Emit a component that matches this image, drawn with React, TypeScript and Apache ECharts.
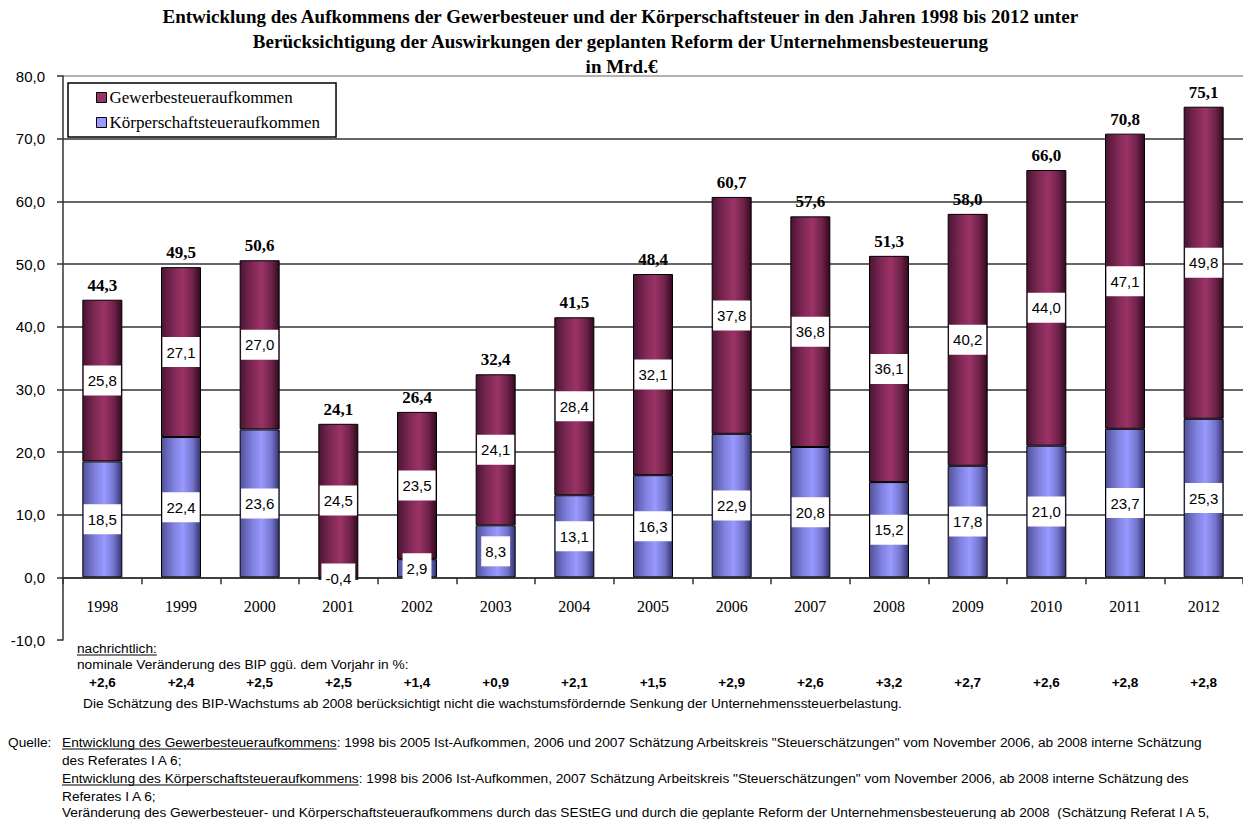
import React, { useEffect, useRef } from 'react';
import * as echarts from 'echarts';

const years = ['1998', '1999', '2000', '2001', '2002', '2003', '2004', '2005', '2006', '2007', '2008', '2009', '2010', '2011', '2012'];
const koerperschaft = [18.5, 22.4, 23.6, -0.4, 2.9, 8.3, 13.1, 16.3, 22.9, 20.8, 15.2, 17.8, 21.0, 23.7, 25.3];
const gewerbe = [25.8, 27.1, 27.0, 24.5, 23.5, 24.1, 28.4, 32.1, 37.8, 36.8, 36.1, 40.2, 44.0, 47.1, 49.8];
const totals = [44.3, 49.5, 50.6, 24.1, 26.4, 32.4, 41.5, 48.4, 60.7, 57.6, 51.3, 58.0, 66.0, 70.8, 75.1];
const bipChange = ['+2,6', '+2,4', '+2,5', '+2,5', '+1,4', '+0,9', '+2,1', '+1,5', '+2,9', '+2,6', '+3,2', '+2,7', '+2,6', '+2,8', '+2,8'];

const titleLines = [
  'Entwicklung des Aufkommens der Gewerbesteuer und der Körperschaftsteuer in den Jahren 1998 bis 2012 unter',
  'Berücksichtigung der Auswirkungen der geplanten Reform der Unternehmensbesteuerung',
  'in Mrd.€',
];
const seriesNames = ['Gewerbesteueraufkommen', 'Körperschaftsteueraufkommen'];

const fmt = (v: number) => v.toFixed(1).replace('.', ',');

const SANS = '"Liberation Sans", Arial, sans-serif';
const SERIF = '"Liberation Serif", "Times New Roman", serif';
const NOTE_SIZE = 13.7;

function measure(text: string, font: string): number {
  const c = document.createElement('canvas').getContext('2d');
  if (!c) return text.length * 6;
  c.font = font;
  return c.measureText(text).width;
}

export default function App() {
  const ref = useRef<HTMLDivElement>(null);
  useEffect(() => {
    if (!ref.current) return;
    const chart = echarts.init(ref.current, undefined, { renderer: 'svg' });

    const purple = new echarts.graphic.LinearGradient(0, 0, 1, 0, [
      { offset: 0, color: '#4a1434' },
      { offset: 0.3, color: '#7e2854' },
      { offset: 0.55, color: '#9b3366' },
      { offset: 0.8, color: '#6e2249' },
      { offset: 1, color: '#33091f' },
    ]);
    const blue = new echarts.graphic.LinearGradient(0, 0, 1, 0, [
      { offset: 0, color: '#50509a' },
      { offset: 0.3, color: '#7f7fdc' },
      { offset: 0.55, color: '#9999ff' },
      { offset: 0.8, color: '#7474cc' },
      { offset: 1, color: '#333370' },
    ]);

    const tops = gewerbe.map((g, i) => g + Math.max(koerperschaft[i], 0));

    const noteFont = `${NOTE_SIZE}px "Liberation Sans"`;
    const graphics: any[] = [];
    titleLines.forEach((t, i) => {
      graphics.push({
        type: 'text', left: 'center', top: 7 + i * 25,
        style: { text: t, font: `bold 19px ${SERIF}`, fill: '#000' },
      });
    });
    const addText = (x: number, y: number, text: string, underline = false) => {
      graphics.push({
        type: 'text', x, y,
        style: { text, font: `${NOTE_SIZE}px ${SANS}`, fill: '#000', verticalAlign: 'middle' },
      });
      const w = measure(text, noteFont);
      if (underline) {
        graphics.push({
          type: 'line', shape: { x1: x, y1: y + 7, x2: x + w, y2: y + 7 },
          style: { stroke: '#000', lineWidth: 1 },
        });
      }
      return w;
    };
    addText(77, 648, 'nachrichtlich:', true);
    addText(77, 664, 'nominale Veränderung des BIP ggü. dem Vorjahr in %:');
    addText(83, 703, 'Die Schätzung des BIP-Wachstums ab 2008 berücksichtigt nicht die wachstumsfördernde Senkung der Unternehmenssteuerbelastung.');
    addText(8, 742, 'Quelle:');
    const w1 = addText(62, 742, 'Entwicklung des Gewerbesteueraufkommens', true);
    addText(62 + w1, 742, ': 1998 bis 2005 Ist-Aufkommen, 2006 und 2007 Schätzung Arbeitskreis "Steuerschätzungen" vom November 2006, ab 2008 interne Schätzung');
    addText(62, 760, 'des Referates I A 6;');
    const w2 = addText(62, 778, 'Entwicklung des Körperschaftsteueraufkommens', true);
    addText(62 + w2, 778, ': 1998 bis 2006 Ist-Aufkommen, 2007 Schätzung Arbeitskreis "Steuerschätzungen" vom November 2006, ab 2008 interne Schätzung des');
    addText(62, 796, 'Referates I A 6;');
    addText(62, 812, 'Veränderung des Gewerbesteuer- und Körperschaftsteueraufkommens durch das SEStEG und durch die geplante Reform der Unternehmensbesteuerung ab 2008  (Schätzung Referat I A 5,');

    const innerLabel = {
      show: true,
      position: 'inside',
      formatter: (p: any) => fmt(p.value),
      color: '#000',
      fontFamily: SANS,
      fontSize: 15,
      backgroundColor: '#fff',
      padding: [8, 4, 7, 4],
    };

    const gridTop = 76;
    const gridBottom = 179;
    const plotH = 819 - gridTop - gridBottom;
    const zeroOffset = -plotH / 9; // 10 units of 90 above the bottom

    chart.setOption({
      animation: false,
      backgroundColor: '#fff',
      graphic: graphics,
      legend: {
        data: [
          { name: seriesNames[0], itemStyle: { color: '#993366', borderColor: '#000', borderWidth: 1 } },
          { name: seriesNames[1], itemStyle: { color: '#9999ff', borderColor: '#000', borderWidth: 1 } },
        ],
        orient: 'vertical',
        left: 68,
        top: 83,
        padding: [6, 16, 6, 28],
        itemWidth: 10,
        itemHeight: 10,
        itemGap: 8,
        icon: 'rect',
        borderColor: '#000',
        borderWidth: 1.5,
        textStyle: { fontFamily: SERIF, fontSize: 17, color: '#000', padding: [0, 0, 0, -2] },
        backgroundColor: '#fff',
      },
      grid: { left: 63, right: 0, top: gridTop, bottom: gridBottom, containLabel: false },
      xAxis: [
        {
          type: 'category',
          data: years,
          position: 'bottom',
          offset: zeroOffset,
          axisLine: { onZero: false, lineStyle: { color: '#333', width: 1.5 } },
          axisTick: { show: true, length: 7, lineStyle: { color: '#333', width: 1.5 } },
          axisLabel: { fontFamily: SERIF, fontSize: 16, color: '#000', margin: 21 },
        },
        {
          type: 'category',
          data: bipChange,
          position: 'bottom',
          axisLine: { show: false, onZero: false },
          axisTick: { show: false },
          axisLabel: { fontFamily: SANS, fontSize: 13.5, fontWeight: 'bold', color: '#000', margin: 35 },
        },
      ],
      yAxis: {
        type: 'value',
        min: -10,
        max: 80,
        interval: 10,
        axisLine: { show: true, lineStyle: { color: '#333', width: 1.5 } },
        axisTick: { show: true, length: 6, lineStyle: { color: '#333', width: 1.5 } },
        axisLabel: { formatter: (v: number) => fmt(v), fontFamily: SANS, fontSize: 15, color: '#000', margin: 18 },
        splitLine: {
          show: true,
          lineStyle: {
            color: ['transparent', '#333', '#333', '#333', '#333', '#333', '#333', '#333', '#333', '#9a9a9a'],
            width: 1.5,
          },
        },
      },
      series: [
        {
          name: seriesNames[1],
          type: 'bar',
          stack: 'total',
          xAxisIndex: 0,
          data: koerperschaft,
          barWidth: 40,
          itemStyle: { color: blue, borderColor: '#000', borderWidth: 1 },
          label: innerLabel,
          z: 2,
        },
        {
          name: seriesNames[0],
          type: 'bar',
          stack: 'total',
          xAxisIndex: 0,
          data: gewerbe,
          barWidth: 40,
          itemStyle: { color: purple, borderColor: '#000', borderWidth: 1 },
          label: innerLabel,
          z: 2,
        },
        {
          name: 'Summe',
          type: 'scatter',
          xAxisIndex: 0,
          data: tops,
          symbolSize: 2,
          itemStyle: { color: 'rgba(0,0,0,0)' },
          label: {
            show: true,
            position: 'top',
            distance: 5,
            formatter: (p: any) => fmt(totals[p.dataIndex]),
            fontFamily: SERIF,
            fontWeight: 'bold',
            fontSize: 17,
            color: '#000',
            opacity: 1,
          },
          z: 3,
        },
      ],
    });
    return () => chart.dispose();
  }, []);

  return <div ref={ref} style={{ position: 'fixed', left: 0, top: 0, width: 1243, height: 819 }} />;
}
